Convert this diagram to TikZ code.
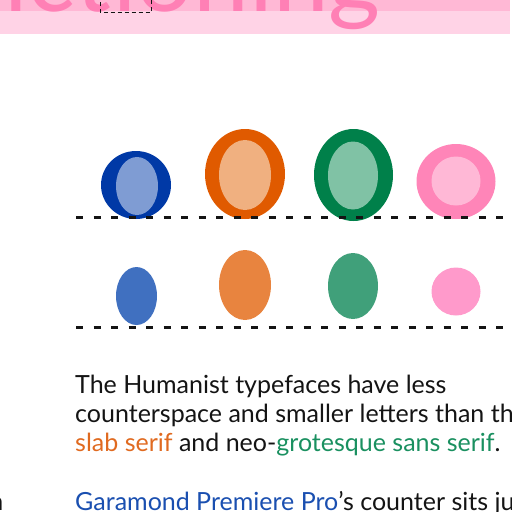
\documentclass[tikz,border=0pt]{standalone}
\usepackage{fontspec}
\setmainfont{Lato}
\usepackage{xcolor}
\usepackage{tikz}
\usetikzlibrary{calc,positioning}
\definecolor{ink}{HTML}{141414}
\definecolor{band}{HTML}{FFD3E6}
\definecolor{bandhi}{HTML}{FFB8D5}
\definecolor{title}{HTML}{FF80B5}
\definecolor{humDark}{HTML}{0039A6}
\definecolor{humLight}{HTML}{7F9CD3}
\definecolor{humCounter}{HTML}{4070C0}
\definecolor{slabDark}{HTML}{E05A00}
\definecolor{slabLight}{HTML}{F0B080}
\definecolor{slabCounter}{HTML}{E8843F}
\definecolor{grotDark}{HTML}{00804A}
\definecolor{grotLight}{HTML}{80C2A5}
\definecolor{grotCounter}{HTML}{40A07A}
\definecolor{geoDark}{HTML}{FF85B8}
\definecolor{geoLight}{HTML}{FFB8D6}
\definecolor{geoCounter}{HTML}{FF9ACB}
\definecolor{slabText}{HTML}{E06A20}
\definecolor{grotText}{HTML}{1A9060}
\definecolor{humText}{HTML}{1A4FB0}
\tikzset{
  body/.style={anchor=base west,inner sep=0pt,font=\fontsize{25}{29}\selectfont,text=ink},
  guide/.style={draw=ink,line width=2.5pt,dash pattern=on 7pt off 10.5pt},
  selbox/.style={draw=ink,line width=1pt,dash pattern=on 4pt off 3pt}}

\begin{document}
\begin{tikzpicture}[x=1pt,y=-1pt]
\useasboundingbox (0,0) rectangle (512,512);
\clip (0,0) rectangle (512,512);

% title band
\fill[band] (0,0) rectangle (510,34);
\fill[bandhi] (0,0) rectangle (510,10.5);
\node[anchor=base east,inner sep=0pt,text=title,font=\fontsize{100}{100}\selectfont] (head) at (381,11) {functioning};
\draw[selbox] (100,-5) rectangle (151,12.5);

% letters o with their counters
\fill[humDark] (136,185) ellipse[x radius=35pt,y radius=34pt];
\fill[humLight] (137,186) ellipse[x radius=21pt,y radius=29pt];
\fill[slabDark] (245,174) ellipse[x radius=40pt,y radius=45pt];
\fill[slabLight] (245,175) ellipse[x radius=26pt,y radius=35pt];
\fill[grotDark] (353.5,175) ellipse[x radius=39.5pt,y radius=46pt];
\fill[grotLight] (353,175.5) ellipse[x radius=25pt,y radius=34pt];
\fill[geoDark] (456,181.5) ellipse[x radius=39.5pt,y radius=37.5pt];
\fill[geoLight] (456,181) ellipse[x radius=24.5pt,y radius=24.5pt];

% counters alone
\fill[humCounter] (136.5,296) ellipse[x radius=20.5pt,y radius=29pt];
\fill[slabCounter] (245,285) ellipse[x radius=26pt,y radius=35pt];
\fill[grotCounter] (353,286) ellipse[x radius=25pt,y radius=33pt];
\fill[geoCounter] (456,291.5) ellipse[x radius=24.5pt,y radius=24pt];

% baselines
\coordinate (g1a) at (76,217.5);
\coordinate (g1b) at (505,217.5);
\coordinate (g2a) at (76,327.5);
\coordinate (g2b) at (505,327.5);
\draw[guide] (g1a) -- (g1b);
\draw[guide] (g2a) -- (g2b);

% text
\node[body] (l1) at (75,393) {The Humanist typefaces have less};
\node[body] (l2) at (75,422) {counterspace and smaller letters than the};
\node[body] (l3) at (75,451.5) {\textcolor{slabText}{slab serif} and neo-\textcolor{grotText}{grotesque sans serif}.};
\node[body] (l4) at (75,510) {\textcolor{humText}{Garamond Premiere Pro}’s counter sits just};
\node[body,anchor=base east] (side) at (3.5,510) {n};
\end{tikzpicture}
\end{document}
